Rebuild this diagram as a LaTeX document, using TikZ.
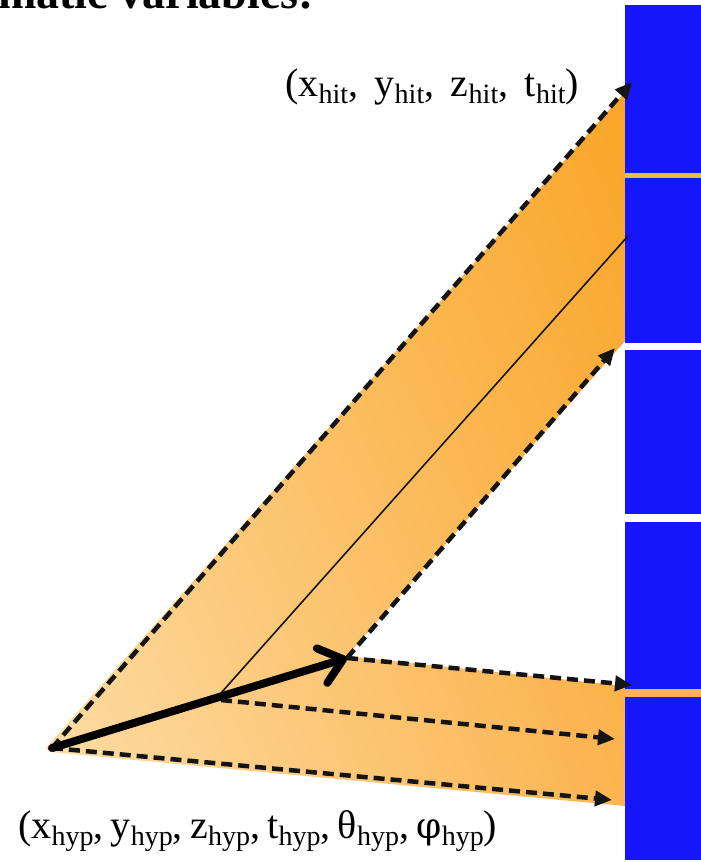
\documentclass[tikz,border=0pt]{standalone}
\usepackage{fontspec}
\setmainfont{Liberation Serif}
\newfontfamily\dvs{DejaVu Serif}
\usetikzlibrary{arrows.meta,shadings}
\definecolor{barblue}{RGB}{22,22,250}
\definecolor{orA}{RGB}{253,222,168}
\definecolor{orB}{RGB}{250,166,40}
\definecolor{orC}{RGB}{252,198,115}
\definecolor{orD}{RGB}{251,180,80}
\definecolor{inkblk}{RGB}{20,20,20}
\newcommand\lsub[1]{\raisebox{-7pt}{\fontsize{28}{28}\selectfont #1}}
\newcommand\tsep{,\hspace{-2.6pt} }
\tikzset{
  bar/.style={fill=barblue,draw=none},
  dasharrow/.style={draw=inkblk,line width=4.5pt,dash pattern=on 11pt off 6pt,-{Triangle[length=17pt,width=15pt]}},
  thinline/.style={draw=inkblk,line width=1.6pt},
  bigarrow/.style={draw=black,line width=8pt,line cap=round,-{Straight Barb[length=22pt,width=36pt,line width=8pt,round]}},
  lbl/.style={font=\fontsize{40}{40}\selectfont,inner sep=0pt},
}
\begin{document}
\begin{tikzpicture}[x=1pt,y=-1pt]
\useasboundingbox (0,0) rectangle (701,862);
\begin{scope}
\clip (0,0) rectangle (701,862);
% title fragment
\node[anchor=base east,inner sep=0pt,font=\fontsize{46}{46}\selectfont\bfseries] (title) at (314,9) {matic variables:};
% orange bands
\shade[lower left=orA,upper right=orB,upper left=orC,lower right=orD]
  (46,748) -- (625,92) -- (625,341) -- (347,656) -- (625,686) -- (625,806) -- (50,752) -- cycle;
% blue bars
\fill[bar] (625,5) rectangle (701,173);
\fill[orD] (625,173) rectangle (701,178);
\fill[bar] (625,178) rectangle (701,343);
\fill[bar] (625,350) rectangle (701,514);
\fill[bar] (625,522) rectangle (701,689);
\fill[orD] (625,689) rectangle (701,697);
\fill[bar] (625,697) rectangle (701,860);
\end{scope}
% coordinates
\coordinate (apex) at (52,748);
\coordinate (head) at (347,658);
\coordinate (mid) at (221,700);
\coordinate (midtop) at (221,693);
\coordinate (tA) at (632,82);
\coordinate (tB) at (615,348);
\coordinate (tC) at (632,685);
\coordinate (tD) at (615,739);
\coordinate (tE) at (612,800);
\coordinate (tF) at (628,236);
% thin line
\draw[thinline] (midtop) -- (tF);
% dashed arrows
\draw[dasharrow] (apex) -- (tA);
\draw[dasharrow] (head) -- (tB);
\draw[dasharrow] (head) -- (tC);
\draw[dasharrow] (mid) -- (tD);
\draw[dasharrow] (apex) -- (tE);
% thick arrow
\draw[bigarrow] (apex) -- (head);
% labels
\node[lbl,anchor=base west] (hit) at (285,96) {(x\lsub{hit},\, y\lsub{hit},\, z\lsub{hit},\, t\lsub{hit})};
\node[lbl,anchor=base west] (hyp) at (18,838) {(x\lsub{hyp}\tsep y\lsub{hyp}\tsep z\lsub{hyp}\tsep t\lsub{hyp}\tsep θ\lsub{hyp}\tsep {\dvs\fontsize{36}{36}\selectfont φ}\lsub{hyp})};
\end{tikzpicture}
\end{document}
